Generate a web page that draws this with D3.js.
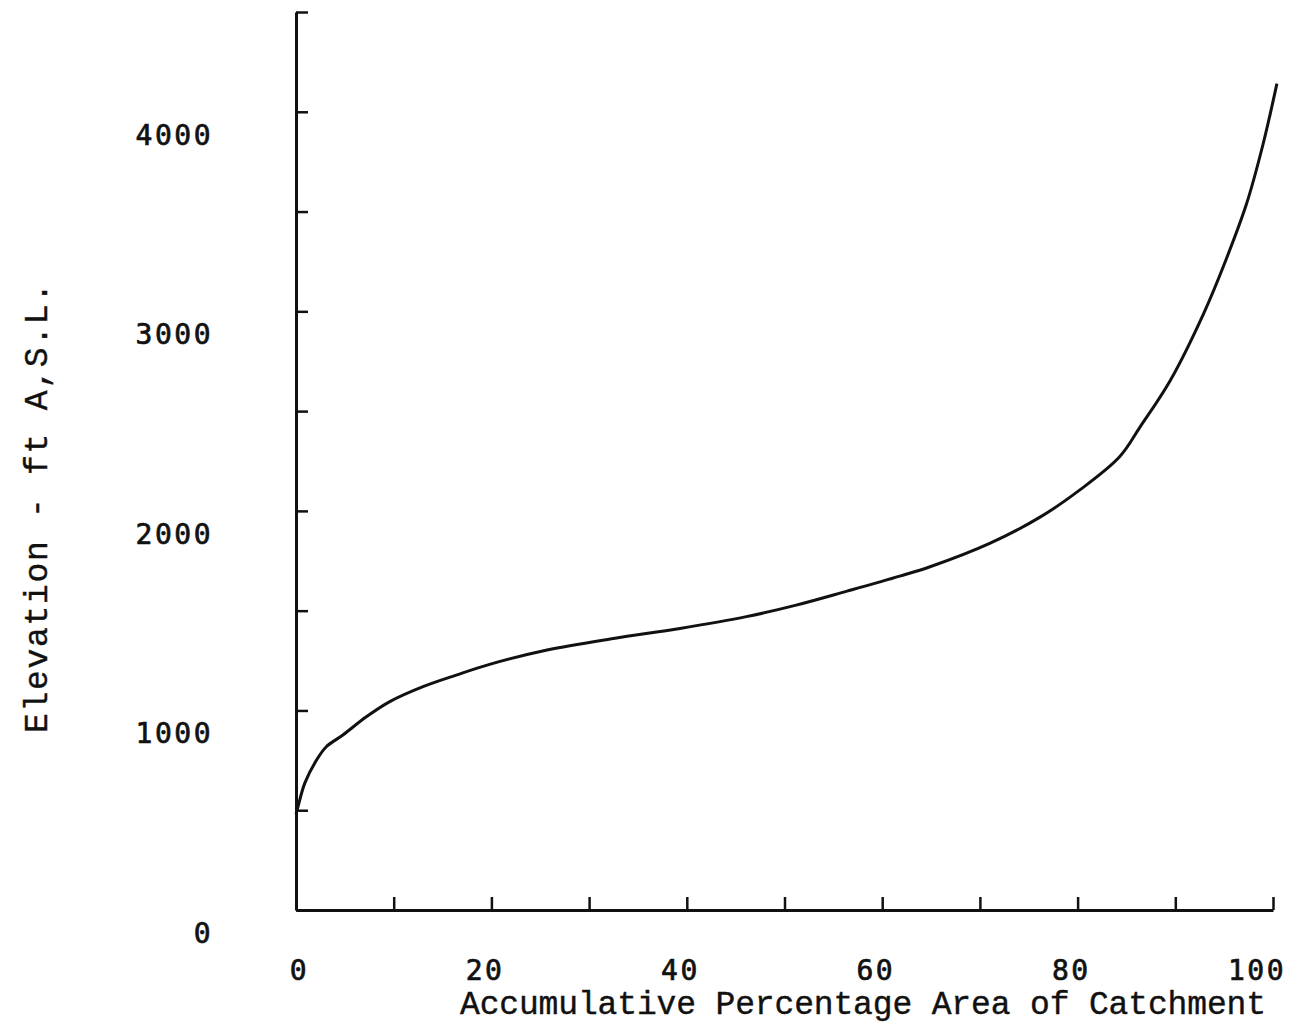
<!DOCTYPE html>
<html>
<head>
<meta charset="utf-8">
<script src="https://cdn.jsdelivr.net/npm/d3@7"></script>
<style>
    body { margin: 0; background: #fff; }
    svg { display: block; }
    .tick-label { font-family: "DejaVu Sans Mono", monospace; font-size: 28px; letter-spacing: 2.5px; fill: #111; stroke: #111; stroke-width: 0.7px; }
    .title { font-family: "Liberation Mono", "DejaVu Sans Mono", monospace; font-size: 33px; fill: #111; stroke: #111; stroke-width: 0.4px; }
</style>
</head>
<body>
<svg id="chart" width="1290" height="1024"></svg>
<script>
'use strict';

// hypsometric curve
const areaPct = [0, 0.2, 0.9, 2.1, 3.1, 4.8, 7.2, 9.6, 13, 16.4, 19.9, 25.7, 32.5, 39.3, 46.1, 51.2, 56.4, 61.8, 64.9, 71, 76.2, 80.2, 84.3, 86.4, 89.5, 92.9, 95.2, 97.3, 99, 100.4];
const elevFt  = [480, 517, 636, 751, 818, 877, 968, 1044, 1119, 1177, 1232, 1303, 1361, 1411, 1470, 1528, 1598, 1673, 1720, 1837, 1970, 2104, 2271, 2421, 2655, 2989, 3260, 3540, 3841, 4141];

// axis ticks and labels
const xTicks = [0, 10, 20, 30, 40, 50, 60, 70, 80, 90, 100];
const xLabels = [0, 20, 40, 60, 80, 100];
const yTicks = [0, 500, 1000, 1500, 2000, 2500, 3000, 3500, 4000, 4500];
const yLabels = [0, 1000, 2000, 3000, 4000];

const xTitle = 'Accumulative Percentage Area of Catchment';
const yTitle = 'Elevation - ft A,S.L.';

const svg = d3.select('#chart');

// scales
const x = d3.scaleLinear().domain([0, 100]).range([296, 1273]);
const y = d3.scaleLinear().domain([0, 4500]).range([910, 12]);

// x axis, ticks pointing up
svg.append('g')
    .attr('transform', `translate(0,${y(0)})`)
    .call(d3.axisTop(x).tickValues(xTicks).tickSize(13).tickSizeOuter(0).tickFormat(''));

// y axis, ticks pointing right
svg.append('g')
    .attr('transform', `translate(${x(0)},0)`)
    .call(d3.axisRight(y).tickValues(yTicks).tickSize(12).tickSizeOuter(0).tickFormat(''));

svg.selectAll('.domain').attr('stroke', '#111').attr('stroke-width', 3);
svg.selectAll('.tick line').attr('stroke', '#111').attr('stroke-width', 2.5);

// x tick labels, right edge just past the tick like the typed original
svg.append('g')
    .selectAll('text')
    .data(xLabels)
    .enter()
    .append('text')
    .attr('class', 'tick-label')
    .attr('x', d => x(d) + 13)
    .attr('y', 980)
    .attr('text-anchor', 'end')
    .text(d => d);

// y tick labels (sit a bit below their ticks, as in the original)
svg.append('g')
    .selectAll('text')
    .data(yLabels)
    .enter()
    .append('text')
    .attr('class', 'tick-label')
    .attr('x', 213)
    .attr('y', d => y(d) + 33)
    .attr('text-anchor', 'end')
    .text(d => d);

// axis titles
svg.append('text')
    .attr('class', 'title')
    .attr('x', 460)
    .attr('y', 1014)
    .attr('textLength', 806)
    .attr('lengthAdjust', 'spacing')
    .text(xTitle);

svg.append('text')
    .attr('class', 'title')
    .attr('transform', 'translate(47,733) rotate(-90)')
    .attr('textLength', 450)
    .attr('lengthAdjust', 'spacing')
    .text(yTitle);

// the curve
const line = d3.line()
    .x((d, i) => x(areaPct[i]))
    .y(d => y(d))
    .curve(d3.curveCatmullRom.alpha(0.5));

svg.append('path')
    .datum(elevFt)
    .attr('d', line)
    .attr('fill', 'none')
    .attr('stroke', '#111')
    .attr('stroke-width', 3)
    .attr('stroke-linejoin', 'round');
</script>
</body>
</html>
